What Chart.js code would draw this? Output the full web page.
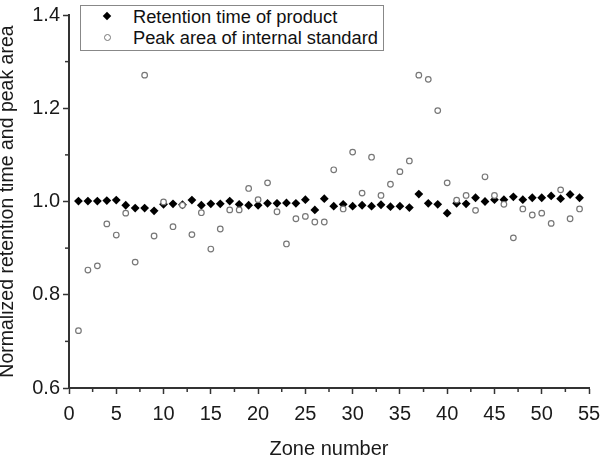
<!DOCTYPE html>
<html>
<head>
<meta charset="utf-8">
<script src="https://cdn.jsdelivr.net/npm/chart.js@4.4.1/dist/chart.umd.min.js"></script>
<style>
  body { margin: 0; background: #fff; }
  #wrap { position: relative; width: 600px; height: 455px; }
  #legend {
    position: absolute; left: 80px; top: 5px; width: 302px; height: 44px;
    border: 1px solid #888; background: #fff;
    font-family: "Liberation Sans", Arial, sans-serif; font-size: 18.3px; color: #111;
  }
  .row { position: absolute; left: 0; height: 21px; line-height: 21px; white-space: nowrap; }
  .row span.txt { position: absolute; left: 52px; }
  .diamond { position: absolute; left: 23px; top: 7px; width: 6px; height: 6px; background: #000; transform: rotate(45deg); }
  .circle { position: absolute; left: 23px; top: 7px; width: 5px; height: 5px; border: 1.2px solid #777; border-radius: 50%; }
</style>
</head>
<body>
<div id="wrap">
  <canvas id="grafico" width="600" height="455"></canvas>
  <div id="legend">
    <div class="row" style="top:0px"><i class="diamond"></i><span class="txt">Retention time of product</span></div>
    <div class="row" style="top:21px"><i class="circle"></i><span class="txt">Peak area of internal standard</span></div>
  </div>
</div>
<script>
// dati
const zones = [1,2,3,4,5,6,7,8,9,10,11,12,13,14,15,16,17,18,19,20,21,22,23,24,25,26,27,
               28,29,30,31,32,33,34,35,36,37,38,39,40,41,42,43,44,45,46,47,48,49,50,51,52,53,54]

const retentionTime = [1.001,1.001,1.001,1.002,1.003,0.992,0.986,0.986,0.980,0.994,
                       0.995,0.993,1.003,0.992,0.995,0.995,1.001,0.994,0.992,0.992,
                       0.996,0.996,0.997,0.996,1.004,0.982,1.006,0.990,0.994,0.990,
                       0.992,0.990,0.993,0.989,0.990,0.987,1.016,0.996,0.994,0.975,
                       0.996,0.995,1.008,1.000,1.004,1.004,1.010,1.004,1.008,1.008,
                       1.012,1.006,1.015,1.008]

const peakArea = [0.723,0.853,0.862,0.952,0.928,0.975,0.870,1.271,0.926,0.999,
                  0.946,0.992,0.929,0.976,0.898,0.941,0.982,0.982,1.028,1.004,
                  1.040,0.978,0.909,0.963,0.968,0.956,0.956,1.068,0.984,1.106,
                  1.018,1.095,1.013,1.037,1.064,1.087,1.271,1.262,1.195,1.040,
                  1.003,1.013,0.981,1.053,1.013,0.994,0.922,0.984,0.971,0.975,
                  0.953,1.025,0.963,0.984]

const xTicks = [0,5,10,15,20,25,30,35,40,45,50,55]
const yTicks = [0.6,0.8,1.0,1.2,1.4]

const family = '"Liberation Sans", Arial, sans-serif'
const axisColor = '#333'
const textColor = '#1a1a1a'

//tacche minori
const minorTicks = {
    id: 'minorTicks',
    afterDraw(chart) {
        const {ctx, scales: {x, y}} = chart
        ctx.save()
        ctx.strokeStyle = axisColor
        ctx.lineWidth = 1.5
        for (let i = 0; i < xTicks.length - 1; i++) {
            const px = x.getPixelForValue((xTicks[i] + xTicks[i + 1]) / 2)
            ctx.beginPath(); ctx.moveTo(px, y.bottom); ctx.lineTo(px, y.bottom + 4); ctx.stroke()
        }
        for (let i = 0; i < yTicks.length - 1; i++) {
            const py = y.getPixelForValue((yTicks[i] + yTicks[i + 1]) / 2)
            ctx.beginPath(); ctx.moveTo(x.left, py); ctx.lineTo(x.left - 4, py); ctx.stroke()
        }
        ctx.restore()
    }
}

new Chart(document.querySelector('#grafico'), {
    type: 'scatter',
    data: {
        datasets: [{
            label: 'Peak area of internal standard',
            data: zones.map((z, i) => ({x: z, y: peakArea[i]})),
            pointStyle: 'circle',
            pointRadius: 2.8,
            borderWidth: 1.2,
            borderColor: '#777',
            backgroundColor: '#fff',
            order: 0
        }, {
            label: 'Retention time of product',
            data: zones.map((z, i) => ({x: z, y: retentionTime[i]})),
            pointStyle: 'rectRot',
            pointRadius: 4.4,
            borderWidth: 0,
            backgroundColor: '#000',
            order: 1
        }]
    },
    options: {
        responsive: false,
        animation: false,
        layout: {padding: {top: 8, right: 11, left: 0, bottom: 0}},
        plugins: {legend: {display: false}, tooltip: {enabled: false}},
        scales: {
            x: {
                type: 'linear', min: 0, max: 55,
                afterFit: s => { s.height = 67; s.paddingRight = 0; s.paddingLeft = 0 },
                afterBuildTicks: s => { s.ticks = xTicks.map(v => ({value: v})) },
                border: {color: axisColor, width: 2},
                grid: {drawOnChartArea: false, tickLength: 6, tickWidth: 1.5, tickColor: axisColor},
                ticks: {font: {family: family, size: 20, lineHeight: 1}, color: textColor, padding: 10},
                title: {display: true, text: 'Zone number', font: {family: family, size: 20, lineHeight: 0.6}, color: textColor, padding: {top: 0, bottom: 0}}
            },
            y: {
                min: 0.6, max: 1.4,
                afterFit: s => { s.width = 69 },
                afterBuildTicks: s => { s.ticks = yTicks.map(v => ({value: v})) },
                border: {color: axisColor, width: 2},
                grid: {drawOnChartArea: false, tickLength: 6, tickWidth: 1.5, tickColor: axisColor},
                ticks: {font: {family: family, size: 20}, color: textColor, padding: 3, callback: v => v.toFixed(1)},
                title: {display: true, text: 'Normalized retention time and peak area', font: {family: family, size: 19.5, lineHeight: 0.8}, color: textColor, padding: {top: 0, bottom: 0}}
            }
        }
    },
    plugins: [minorTicks]
})
</script>
</body>
</html>
